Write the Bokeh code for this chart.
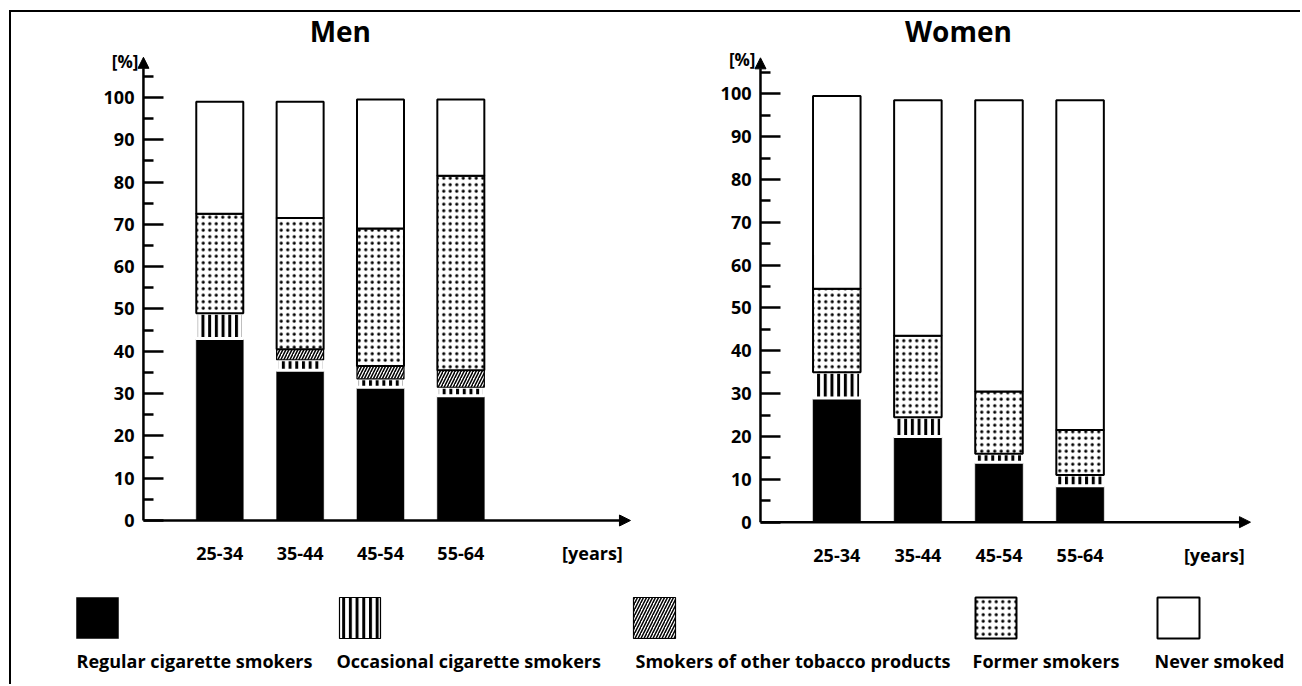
import numpy as np
from bokeh.plotting import figure
from bokeh.layouts import column, row
from bokeh.models import Range1d, FixedTicker, Arrow, NormalHead, Label, LinearAxis
from bokeh.embed import file_html
from bokeh.resources import INLINE
from bokeh.core.properties import value

# ---------------- data ----------------
age_groups = ["25-34", "35-44", "45-54", "55-64"]
categories = ["Regular cigarette smokers", "Occasional cigarette smokers",
              "Smokers of other tobacco products", "Former smokers", "Never smoked"]

men_regular = [43.0, 35.5, 31.5, 29.5]
men_occasional = [6.0, 2.5, 2.0, 2.0]
men_other = [0.0, 2.5, 3.0, 4.0]
men_former = [23.5, 31.0, 32.5, 46.0]
men_never = [26.5, 27.5, 30.5, 18.0]

women_regular = [29.0, 20.0, 14.0, 8.5]
women_occasional = [6.0, 4.5, 2.0, 2.5]
women_other = [0.0, 0.0, 0.0, 0.0]
women_former = [19.5, 19.0, 14.5, 10.5]
women_never = [45.0, 55.0, 68.0, 77.0]

y_ticks = [0, 10, 20, 30, 40, 50, 60, 70, 80, 90, 100]
y_minor = [5, 15, 25, 35, 45, 55, 65, 75, 85, 95, 105]
x_unit_label = "[years]"
y_unit_label = "[%]"

FONT = "Open Sans"

# ---------------- styles per category ----------------
styles = [
    dict(fill_color="black", line_color="black", line_width=0.5),
    dict(fill_color="white", hatch_pattern="vertical_line", hatch_color="black",
         hatch_scale=6.7, hatch_weight=3, line_color="white", line_width=3),
    dict(fill_color="white", hatch_pattern="right_diagonal_line", hatch_color="black",
         hatch_scale=6, hatch_weight=1.5, line_color="black", line_width=1.2),
    dict(fill_color="white", hatch_pattern="dot", hatch_color="black",
         hatch_scale=6.5, hatch_weight=3, line_color="black", line_width=2),
    dict(fill_color="white", line_color="black", line_width=2),
]


def panel(title, series, width, height, xr, yr, axis_x, tip_x, tip_y, years_x, title_y,
          pct_y, bar_w):
    p = figure(width=width, height=height, output_backend="svg", toolbar_location=None,
               x_range=Range1d(*xr), y_range=Range1d(*yr),
               x_axis_location=None, y_axis_location=None,
               min_border=0, outline_line_color=None)
    p.grid.visible = False
    xs = np.arange(len(age_groups))
    bottom = np.zeros(len(age_groups))
    for vals, st in zip(series, styles):
        v = np.array(vals)
        keep = v > 0
        if keep.any():
            p.vbar(x=xs[keep], width=bar_w, bottom=bottom[keep], top=(bottom + v)[keep], **st)
        bottom = bottom + v

    # y axis, drawn at a fixed x position inside the frame
    ya = LinearAxis(fixed_location=axis_x,
                    ticker=FixedTicker(ticks=y_ticks, minor_ticks=y_minor))
    ya.axis_line_color = None
    ya.major_tick_in = 20
    ya.major_tick_out = 0
    ya.minor_tick_in = 10
    ya.minor_tick_out = 0
    ya.major_tick_line_width = 2.5
    ya.minor_tick_line_width = 2.5
    ya.major_label_standoff = 9
    ya.major_label_text_font = FONT
    ya.major_label_text_font_style = "bold"
    ya.major_label_text_font_size = "18px"
    ya.major_label_text_color = "black"
    p.add_layout(ya, "left")

    # x axis at y = 0
    ticks = list(range(len(age_groups))) + [years_x]
    xa = LinearAxis(fixed_location=0, ticker=FixedTicker(ticks=ticks, minor_ticks=[]))
    overrides = {i: g for i, g in enumerate(age_groups)}
    overrides[years_x] = x_unit_label
    xa.major_label_overrides = overrides
    xa.axis_line_color = None
    xa.major_tick_in = 0
    xa.major_tick_out = 0
    xa.major_label_standoff = 21
    xa.major_label_text_font = FONT
    xa.major_label_text_font_style = "bold"
    xa.major_label_text_font_size = "18px"
    xa.major_label_text_color = "black"
    p.add_layout(xa, "below")

    # axis lines with arrow heads
    p.add_layout(Arrow(end=NormalHead(size=11, fill_color="black", line_color="black", line_width=1),
                       x_start=axis_x, y_start=0, x_end=axis_x, y_end=tip_y,
                       line_width=2.5, line_color="black"))
    p.add_layout(Arrow(end=NormalHead(size=11, fill_color="black", line_color="black", line_width=1),
                       x_start=axis_x, y_start=0, x_end=tip_x, y_end=0,
                       line_width=2.5, line_color="black"))

    p.add_layout(Label(x=axis_x, y=pct_y, text=y_unit_label, text_align="right",
                       text_baseline="middle", x_offset=-5, text_font=FONT,
                       text_font_style="bold", text_font_size="17px", text_color="black"))
    p.add_layout(Label(x=1.5, y=title_y, text=title, text_align="center",
                       text_baseline="middle", text_font=FONT, text_font_style="bold",
                       text_font_size="28px", text_color="black"))
    return p


men = panel("Men", [men_regular, men_occasional, men_other, men_former, men_never],
            629, 573, (-2.592, 5.236), (-15.37, 120.09), -0.950, 5.111, 109.5, 4.638,
            115.6, 108.5, 0.585)
women = panel("Women", [women_regular, women_occasional, women_other, women_former, women_never],
              660, 573, (-2.4205, 5.718), (-14.78, 118.98), -0.941, 5.101, 108.4, 4.655,
              114.6, 108.0, 0.586)

# ---------------- legend ----------------
leg = figure(width=1289, height=99, output_backend="svg", toolbar_location=None,
             x_range=Range1d(11, 1300), y_range=Range1d(684, 585),
             x_axis_location=None, y_axis_location=None,
             min_border=0, outline_line_color=None)
leg.grid.visible = False
sw_left = [76, 339, 633, 975, 1157]
sw_right = [118, 380, 675, 1016, 1199]
lbl_left = [76, 336, 635, 972, 1154]
for i, cat in enumerate(categories):
    st = dict(styles[i])
    if i == 1:
        st["line_color"] = "black"
        st["line_width"] = 1.2
    leg.quad(left=[sw_left[i]], right=[sw_right[i]], top=[597], bottom=[638], **st)
    leg.text(x=[lbl_left[i]], y=[660], text=[cat], text_align="left", text_baseline="middle",
             text_font=value(FONT), text_font_style="bold", text_font_size="18px",
             text_color="black")

layout = column(row(men, women), leg,
                styles={"margin-left": "9px", "margin-top": "10px",
                        "border-top": "2px solid black", "border-left": "2px solid black"})

open("out.html", "w").write(file_html(layout, INLINE))
